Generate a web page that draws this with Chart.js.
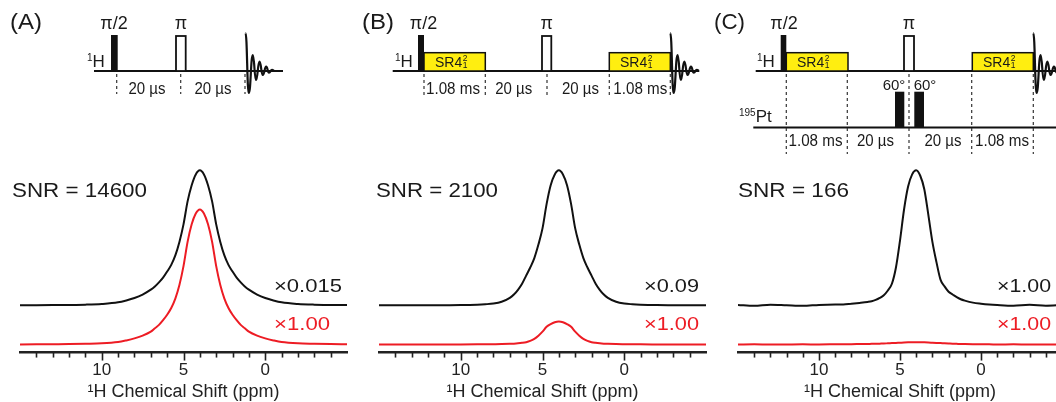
<!DOCTYPE html>
<html>
<head>
<meta charset="utf-8">
<script src="https://cdn.jsdelivr.net/npm/chart.js@4.4.1/dist/chart.umd.min.js"></script>
<style>
  html, body { margin: 0; padding: 0; background: #fff; width: 1056px; height: 402px; overflow: hidden; }
  body { position: relative; }
  canvas { position: absolute; }
  #seq { position: absolute; left: 0; top: 0; }
  #seq text { fill: #1a1a1a; }
</style>
</head>
<body>
<canvas id="specA" width="329" height="263" style="left:19px; top:140px"></canvas>
<canvas id="specB" width="329" height="263" style="left:378px; top:140px"></canvas>
<canvas id="specC" width="326" height="263" style="left:737px; top:140px"></canvas>

<svg id="seq" width="1056" height="402" font-family="'Liberation Sans', Arial, sans-serif">
  <!-- (A) -->
  <text x="10" y="29" font-size="22" textLength="32" lengthAdjust="spacingAndGlyphs">(A)</text>
  <line x1="94" y1="71" x2="283" y2="71" stroke="#111" stroke-width="2"/>
  <text x="87" y="67" font-size="17"><tspan font-size="10" dy="-6">1</tspan><tspan dy="6">H</tspan></text>
  <rect x="111" y="35" width="6.7" height="36" fill="#111"/>
  <text x="114" y="29" font-size="18" text-anchor="middle">π/2</text>
  <rect x="176" y="36" width="9.7" height="35" fill="#fff" stroke="#111" stroke-width="1.8"/>
  <text x="181" y="29" font-size="18" text-anchor="middle">π</text>
  <g stroke="#333" stroke-width="1.2" stroke-dasharray="3,3">
    <line x1="116.7" y1="74" x2="116.7" y2="94"/>
    <line x1="180.7" y1="74" x2="180.7" y2="94"/>
    <line x1="245" y1="74" x2="245" y2="94"/>
  </g>
  <text x="147" y="93.5" font-size="16" text-anchor="middle" textLength="37" lengthAdjust="spacingAndGlyphs">20 µs</text>
  <text x="213" y="93.5" font-size="16" text-anchor="middle" textLength="37" lengthAdjust="spacingAndGlyphs">20 µs</text>
  <path class="fid" data-x0="245.5" data-x1="283" fill="none" stroke="#111" stroke-width="2.2"/>

  <!-- (B) -->
  <text x="362" y="29" font-size="22" textLength="32" lengthAdjust="spacingAndGlyphs">(B)</text>
  <line x1="392.7" y1="71" x2="699" y2="71" stroke="#111" stroke-width="2"/>
  <text x="395" y="67" font-size="17"><tspan font-size="10" dy="-6">1</tspan><tspan dy="6">H</tspan></text>
  <rect x="418" y="35" width="6" height="36" fill="#111"/>
  <text x="423.5" y="29" font-size="18" text-anchor="middle">π/2</text>
  <rect x="424" y="52.7" width="61.3" height="18.3" fill="#ffee10" stroke="#111" stroke-width="1.5"/>
  <text x="435" y="66.5" font-size="14">SR4<tspan font-size="8.5" dx="0.5" dy="-5.5">2</tspan><tspan font-size="8.5" dx="-4.7" dy="7">1</tspan></text>
  <rect x="542" y="36" width="9.3" height="35" fill="#fff" stroke="#111" stroke-width="1.8"/>
  <text x="546.7" y="29" font-size="18" text-anchor="middle">π</text>
  <rect x="609.3" y="52.7" width="61" height="18.3" fill="#ffee10" stroke="#111" stroke-width="1.5"/>
  <text x="620" y="66.5" font-size="14">SR4<tspan font-size="8.5" dx="0.5" dy="-5.5">2</tspan><tspan font-size="8.5" dx="-4.7" dy="7">1</tspan></text>
  <g stroke="#333" stroke-width="1.2" stroke-dasharray="3,3">
    <line x1="424" y1="74" x2="424" y2="98"/>
    <line x1="485.3" y1="74" x2="485.3" y2="98"/>
    <line x1="547" y1="74" x2="547" y2="98"/>
    <line x1="609.3" y1="74" x2="609.3" y2="98"/>
    <line x1="670.3" y1="74" x2="670.3" y2="98"/>
  </g>
  <text x="453" y="93.5" font-size="16" text-anchor="middle" textLength="54" lengthAdjust="spacingAndGlyphs">1.08 ms</text>
  <text x="513.7" y="93.5" font-size="16" text-anchor="middle" textLength="37" lengthAdjust="spacingAndGlyphs">20 µs</text>
  <text x="580.5" y="93.5" font-size="16" text-anchor="middle" textLength="37" lengthAdjust="spacingAndGlyphs">20 µs</text>
  <text x="640.3" y="93.5" font-size="16" text-anchor="middle" textLength="54" lengthAdjust="spacingAndGlyphs">1.08 ms</text>
  <path class="fid" data-x0="670.3" data-x1="699" fill="none" stroke="#111" stroke-width="2.2"/>

  <!-- (C) -->
  <text x="714" y="29" font-size="22" textLength="31" lengthAdjust="spacingAndGlyphs">(C)</text>
  <line x1="755.7" y1="71" x2="1056" y2="71" stroke="#111" stroke-width="2"/>
  <text x="757" y="67" font-size="17"><tspan font-size="10" dy="-6">1</tspan><tspan dy="6">H</tspan></text>
  <rect x="780.7" y="35" width="5.6" height="36" fill="#111"/>
  <text x="784" y="29" font-size="18" text-anchor="middle">π/2</text>
  <rect x="786.3" y="52.7" width="61.7" height="18.3" fill="#ffee10" stroke="#111" stroke-width="1.5"/>
  <text x="797" y="66.5" font-size="14">SR4<tspan font-size="8.5" dx="0.5" dy="-5.5">2</tspan><tspan font-size="8.5" dx="-4.7" dy="7">1</tspan></text>
  <rect x="904" y="36" width="10" height="35" fill="#fff" stroke="#111" stroke-width="1.8"/>
  <text x="909" y="29" font-size="18" text-anchor="middle">π</text>
  <rect x="972.3" y="52.7" width="61" height="18.3" fill="#ffee10" stroke="#111" stroke-width="1.5"/>
  <text x="983" y="66.5" font-size="14">SR4<tspan font-size="8.5" dx="0.5" dy="-5.5">2</tspan><tspan font-size="8.5" dx="-4.7" dy="7">1</tspan></text>
  <line x1="753.3" y1="127.5" x2="1056" y2="127.5" stroke="#111" stroke-width="2"/>
  <text x="739" y="121.7" font-size="17"><tspan font-size="10" dy="-6">195</tspan><tspan dy="6">Pt</tspan></text>
  <rect x="895" y="91.7" width="9.3" height="35.8" fill="#111"/>
  <rect x="914.3" y="91.7" width="9.7" height="35.8" fill="#111"/>
  <text x="894" y="90" font-size="15" text-anchor="middle">60°</text>
  <text x="925" y="90" font-size="15" text-anchor="middle">60°</text>
  <g stroke="#333" stroke-width="1.2" stroke-dasharray="3,3">
    <line x1="786.3" y1="74" x2="786.3" y2="154"/>
    <line x1="847.3" y1="74" x2="847.3" y2="154"/>
    <line x1="909" y1="74" x2="909" y2="154"/>
    <line x1="971.7" y1="74" x2="971.7" y2="154"/>
    <line x1="1033.3" y1="74" x2="1033.3" y2="154"/>
  </g>
  <text x="815.5" y="145.7" font-size="16" text-anchor="middle" textLength="54" lengthAdjust="spacingAndGlyphs">1.08 ms</text>
  <text x="875.5" y="145.7" font-size="16" text-anchor="middle" textLength="37" lengthAdjust="spacingAndGlyphs">20 µs</text>
  <text x="943" y="145.7" font-size="16" text-anchor="middle" textLength="37" lengthAdjust="spacingAndGlyphs">20 µs</text>
  <text x="1002" y="145.7" font-size="16" text-anchor="middle" textLength="54" lengthAdjust="spacingAndGlyphs">1.08 ms</text>
  <path class="fid" data-x0="1033.3" data-x1="1060" fill="none" stroke="#111" stroke-width="2.2"/>

  <!-- spectrum annotations -->
  <text x="12" y="197" font-size="20" textLength="135" lengthAdjust="spacingAndGlyphs">SNR = 14600</text>
  <text x="376" y="197" font-size="20" textLength="122" lengthAdjust="spacingAndGlyphs">SNR = 2100</text>
  <text x="738" y="197" font-size="20" textLength="111" lengthAdjust="spacingAndGlyphs">SNR = 166</text>
  <text x="274" y="292" font-size="18" textLength="68" lengthAdjust="spacingAndGlyphs">×0.015</text>
  <text x="274" y="330" font-size="18" textLength="56" lengthAdjust="spacingAndGlyphs" style="fill:#ed1c24">×1.00</text>
  <text x="644" y="292" font-size="18" textLength="55" lengthAdjust="spacingAndGlyphs">×0.09</text>
  <text x="644" y="330" font-size="18" textLength="55" lengthAdjust="spacingAndGlyphs" style="fill:#ed1c24">×1.00</text>
  <text x="997" y="292" font-size="18" textLength="54" lengthAdjust="spacingAndGlyphs">×1.00</text>
  <text x="997" y="330" font-size="18" textLength="54" lengthAdjust="spacingAndGlyphs" style="fill:#ed1c24">×1.00</text>
</svg>

<script>
// chemical shift grid (ppm) shared by all traces, finer around the peak
const ppm = [15, 14, 13, 12, 11, 10, 9, 8.5, 8, 7.5, 7, 6.75, 6.5, 6.25, 6, 5.75, 5.5, 5.25, 5, 4.75, 4.5, 4.25,
             4, 3.75, 3.5, 3.25, 3, 2.75, 2.5, 2.25, 2, 1.75, 1.5, 1.25, 1, 0.5, 0, -0.5, -1, -2, -3, -4, -5];

// (A) spin echo, black x0.015 and red x1.00
const blackA = [0, 0.1, 0.2, 0.3, 0.5, 1, 2.2, 3.6, 5.4, 8, 11.6, 14, 17, 20.5, 25, 30, 37, 47, 60, 77, 89, 97,
                100, 97, 89, 77, 60, 47, 37, 30, 25, 20.5, 17, 14, 11.6, 8, 5.4, 3.6, 2.2, 1, 0.5, 0.3, 0.2];
const redA = [0, 0.1, 0.2, 0.3, 0.5, 0.8, 1.8, 3, 4.5, 6.5, 9.5, 12, 14.5, 18, 22, 27, 34, 44, 58, 76, 89, 97,
              100, 97, 89, 76, 58, 44, 34, 27, 22, 18, 14.5, 12, 9.5, 6.5, 4.5, 3, 1.8, 0.8, 0.5, 0.3, 0.2];
// (B) with SR4 recoupling
const blackB = [0, 0, 0, 0, 0.1, 0.2, 0.5, 0.8, 1.3, 2.6, 5.5, 8, 11.5, 16, 22, 28, 35, 45, 57, 75, 89, 97,
                100, 97, 89, 75, 57, 45, 35, 28, 22, 16, 11.5, 8, 5.5, 2.6, 1.3, 0.8, 0.5, 0.2, 0.1, 0, 0];
const redB = [0, 0, 0, 0, 0, 0.03, 0.07, 0.1, 0.17, 0.26, 0.43, 0.6, 0.85, 1.2, 1.7, 2.6, 4.1, 6.5, 9.5, 13.1, 15.1, 16.5,
              17, 16.5, 15.1, 13.1, 9.5, 6.5, 4.1, 2.6, 1.7, 1.2, 0.85, 0.6, 0.43, 0.26, 0.17, 0.1, 0.07, 0.03, 0, 0, 0];
// (C) with 195Pt pulses
const blackC = [0.3, -0.4, 0.4, 0, -0.4, 0.3, 0.6, 0.6, 1.2, 1.8, 2.5, 3, 4, 5.5, 7.5, 11, 16, 28, 48, 71, 88, 97,
                100, 96, 86, 67, 47, 32, 19, 14, 10, 8, 6, 4.5, 3.5, 2, 1.2, 0.6, 0.2, -0.3, 0.4, -0.3, 0.2];
const redC = [0, 0.1, -0.1, 0, 0.1, 0, 0.1, 0.15, 0.2, 0.3, 0.4, 0.45, 0.5, 0.6, 0.7, 0.85, 1, 1.15, 1.3, 1.45, 1.55, 1.6,
              1.6, 1.6, 1.55, 1.45, 1.3, 1.15, 1, 0.85, 0.7, 0.55, 0.45, 0.35, 0.3, 0.2, 0.1, 0.1, 0, 0.1, -0.1, 0, 0];

const tickLabels = ['10', '5', '0'];

// vertical stacking of the two traces
const BLACK_OFFSET = 35;
const RED_OFFSET = 6;
const Y_MAX = 157.5;

const FONT = "'Liberation Sans', Arial, sans-serif";

function pts(vals, off) {
  return ppm.map((p, i) => ({ x: p, y: vals[i] + off }));
}

// minor ticks every 1 ppm, longer ones every 5 ppm
const tickMarks = {
  id: 'tickMarks',
  afterDraw(chart) {
    const sc = chart.scales.x;
    const ctx = chart.ctx;
    const y0 = chart.chartArea.bottom;
    ctx.save();
    ctx.strokeStyle = '#222';
    ctx.lineWidth = 1.6;
    sc.ticks.forEach(t => {
      if (t.value <= sc.min || t.value >= sc.max) return;
      const x = Math.round(sc.getPixelForValue(t.value)) + 0.5;
      const len = t.value % 5 === 0 ? 8 : 5;
      ctx.beginPath();
      ctx.moveTo(x, y0);
      ctx.lineTo(x, y0 + len);
      ctx.stroke();
    });
    ctx.restore();
  }
};

function spectrum(id, black, red) {
  return new Chart(document.getElementById(id), {
    type: 'line',
    data: {
      datasets: [
        { data: pts(black, BLACK_OFFSET), borderColor: '#111', borderWidth: 2, pointRadius: 0, cubicInterpolationMode: 'monotone' },
        { data: pts(red, RED_OFFSET), borderColor: '#ed1c24', borderWidth: 2, pointRadius: 0, cubicInterpolationMode: 'monotone' }
      ]
    },
    options: {
      responsive: false,
      animation: false,
      events: [],
      layout: { padding: 0 },
      plugins: { legend: { display: false }, tooltip: { enabled: false } },
      scales: {
        x: {
          type: 'linear', min: -5, max: 15, reverse: true,
          grid: { display: true, drawOnChartArea: false, drawTicks: true, tickLength: 8, tickColor: 'rgba(0,0,0,0)' },
          border: { display: true, color: '#222', width: 2.5 },
          ticks: {
            stepSize: 1, autoSkip: false, maxRotation: 0, padding: 1, color: '#222',
            font: { family: FONT, size: 17, lineHeight: 1.05 },
            callback: v => tickLabels.includes(String(v)) ? String(v) : ''
          },
          title: {
            display: true, text: '¹H Chemical Shift (ppm)', color: '#222',
            font: { family: FONT, size: 18 }, padding: { top: 1, bottom: 0 }
          }
        },
        y: { display: false, min: 0, max: Y_MAX }
      }
    },
    plugins: [tickMarks]
  });
}

spectrum('specA', blackA, redA);
spectrum('specB', blackB, redB);
spectrum('specC', blackC, redC);

// free induction decay sketch: extremes as (dx, y)
const fidShape = [[0, 33], [3.3, 93], [7.3, 55], [10.5, 80], [14, 61.7], [17.3, 75], [20.7, 66.7], [23.5, 72.7], [26.5, 69.8], [29, 71]];
document.querySelectorAll('path.fid').forEach(el => {
  const x0 = +el.dataset.x0, x1 = +el.dataset.x1;
  let d = `M${x0},${fidShape[0][1]}`;
  for (let i = 1; i < fidShape.length; i++) {
    const [ax, ay] = fidShape[i - 1], [bx, by] = fidShape[i];
    const h = (bx - ax) / 2;
    d += ` C${x0 + ax + h},${ay} ${x0 + bx - h},${by} ${x0 + bx},${by}`;
  }
  d += ` L${x1},71`;
  el.setAttribute('d', d);
});
</script>
</body>
</html>
